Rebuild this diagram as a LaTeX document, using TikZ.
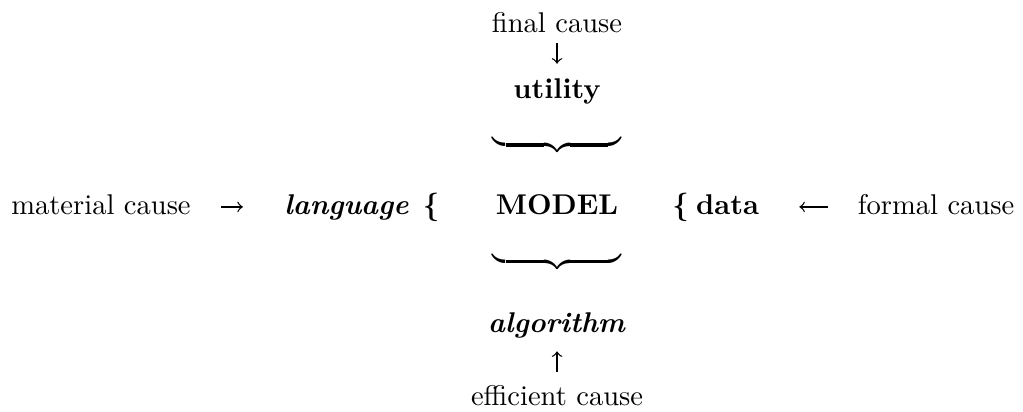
\documentclass[tikz,border=0pt]{standalone}
\usepackage{amsmath}
\begin{document}
\begin{tikzpicture}
                        \useasboundingbox (0,0) rectangle (12.600000,5.062400);
                        \tikzset{every node/.style={inner sep=0pt}}
                        {

                        % Placing the final cause and utility
                        \node (final) at (6.861000,4.656000) [anchor=base] {final cause};%
                        \node (util) at (6.861000,3.855000) [anchor=base] {\textbf{utility}};%
                        \draw [line width=0.016cm,->] ([yshift=-0.111cm]final.south) -- ([yshift=0.172cm]util.north);%

                        % Marking brace over MODEL
                        \node (topbrace) at (6.861000,3.276000) {$\underbrace{\hspace{45pt}}$};%

                        % Placing the material cause and language
                        \node (mat) at (1.244000,2.426000) [anchor=base] {material cause};%
                        \node (lang) at (4.268000,2.426000) [anchor=base] {\textbf{\textit{language}}};%
                        \node (lbrace) at (5.309000,2.426000) [anchor=base] {\textbf{\{}};%
                        \draw [line width=0.016cm,->] ([xshift=0.370000cm,yshift=2.5pt]mat.base east) -- ([xshift=-0.505000cm,yshift=2.5pt]lang.base west);%

                        % Placing MODEL
                        \node (model) at (6.861000,2.426000) [anchor=base] {\textbf{MODEL}};%

                        % Placing the formal cause and data
                        \node (rbrace) at (8.382000,2.426000) [anchor=base] {\textbf{\{}};%
                        \node (data) at (8.961000,2.426000) [anchor=base] {\textbf{data}};%
                        \node (formal) at (11.529000,2.426000) [anchor=base] {formal cause};%
                        \draw [line width=0.016cm,->] ([xshift=-0.357000cm,yshift=2.5pt]formal.base west) -- ([xshift=0.490000cm,yshift=2.5pt]data.base east);%

                        % Marking brace under MODEL
                        \node (botbrace) at (6.861000,1.841000) {$\underbrace{\hspace{45pt}}$};%

                        % Placing the efficient cause and algorithm
                        \node (algo) at (6.861000,0.973000) [anchor=base] {\textbf{\textit{algorithm}}};%
                        \node (effic) at (6.861000,0.074000) [anchor=base] {efficient cause};%
                        \draw [line width=0.016cm,->] ([yshift=0.148cm]effic.north) -- ([yshift=-0.160cm]algo.south);%
                        }
                    \end{tikzpicture}
\end{document}
